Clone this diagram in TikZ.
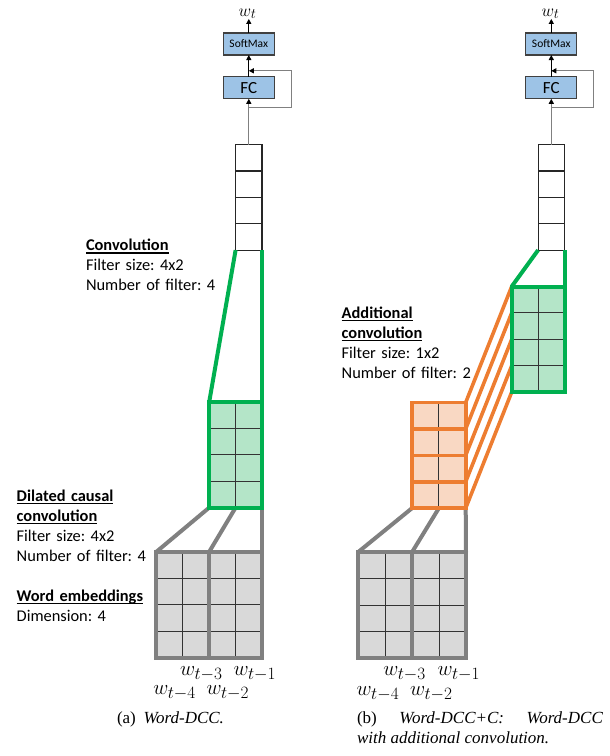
\documentclass[tikz,border=0pt]{standalone}
\usepackage{fontspec}
\setmainfont{Carlito}
\newfontfamily\capfont{Liberation Serif}
\usetikzlibrary{arrows.meta,calc}
\DeclareMathSizes{21}{21}{16.5}{12}
\DeclareMathSizes{19}{19}{14}{10}

\definecolor{boxblue}{HTML}{9DC3E6}
\definecolor{convgreen}{HTML}{00B050}
\definecolor{convgreenfill}{HTML}{B4E5C8}
\definecolor{convorange}{HTML}{ED7D31}
\definecolor{convorangefill}{HTML}{F9D8C3}
\definecolor{embgray}{HTML}{808080}
\definecolor{embgrayfill}{HTML}{D9D9D9}

% bold heading with a solid underline
\newcommand{\ulhead}[1]{\leavevmode\setbox0\hbox{\bfseries #1}\rlap{\rule[-2.8pt]{\wd0}{1.3pt}}\box0}

\begin{document}
\frenchspacing
\begin{tikzpicture}[x=1pt,y=-1pt,
  every node/.style={outer sep=0pt, inner sep=0pt},
  layer/.style={fill=boxblue, draw=black!75, line width=1.1pt,
    minimum width=51pt, minimum height=22pt},
  vec/.style={fill=white, minimum width=26.4pt, minimum height=105.6pt},
  grnfill/.style={fill=convgreenfill, minimum width=52.8pt, minimum height=105.6pt},
  orfill/.style={fill=convorangefill, minimum width=53.6pt, minimum height=105.6pt},
  embfill/.style={fill=embgrayfill, minimum height=106pt},
  gridthin/.style={draw=black!80, line width=0.9pt},
  vecline/.style={draw=black!85, line width=1.2pt},
  grnline/.style={draw=convgreen, line width=4pt},
  orline/.style={draw=convorange, line width=3.6pt},
  embline/.style={draw=embgray, line width=4pt},
  feed/.style={draw=black!50, line width=1.2pt},
  link/.style={draw=black, line width=1.1pt},
  tip/.style={-{Triangle[length=5pt,width=5pt,color=black]}},
  note/.style={anchor=base west, text width=240pt, align=left,
    font=\fontsize{16.4}{20}\selectfont\frenchspacing},
  wlbl/.style={anchor=base west, font=\fontsize{21}{21}\selectfont},
  outlbl/.style={anchor=base, font=\fontsize{19}{19}\selectfont},
  captxt/.style={anchor=base west, font=\capfont\fontsize{17}{20}\selectfont}
]
\useasboundingbox (0,0) rectangle (610,756);

% ---------------- (a) Word-DCC ----------------
\node[layer, font=\fontsize{11.5}{12}\selectfont] (smA) at (248.8,44) {SoftMax};
\node[layer, font=\fontsize{17}{17}\selectfont] (fcA) at (248.8,87.8) {FC};
\node[vec] (colA) at (248.8,197.3) {};
\node[grnfill] (grnA) at (235.6,454.8) {};
\node[embfill, minimum width=105.6pt] (embA) at (209.2,604.8) {};
\node[outlbl] (outA) at (247.5,16) {$w_t$};

% ---------------- (b) Word-DCC+C ----------------
\node[layer, font=\fontsize{11.5}{12}\selectfont] (smB) at (551.3,44) {SoftMax};
\node[layer, font=\fontsize{17}{17}\selectfont] (fcB) at (551.3,87.8) {FC};
\node[vec] (colB) at (551.3,197.3) {};
\node[grnfill] (grnB) at (538.1,339.3) {};
\node[orfill] (orB) at (438.9,455.3) {};
\node[embfill, minimum width=108pt] (embB) at (412,605.2) {};
\node[outlbl] (outB) at (550.5,16) {$w_t$};

% inner grid lines
\foreach \n in {A,B}{
  \foreach \f in {0.25,0.5,0.75}{
    \draw[vecline] ($(col\n.north west)!\f!(col\n.south west)$) -- ($(col\n.north east)!\f!(col\n.south east)$);
    \draw[gridthin] ($(grn\n.north west)!\f!(grn\n.south west)$) -- ($(grn\n.north east)!\f!(grn\n.south east)$);
    \draw[gridthin] ($(emb\n.north west)!\f!(emb\n.south west)$) -- ($(emb\n.north east)!\f!(emb\n.south east)$);
  }
  \draw[gridthin] (grn\n.north) -- (grn\n.south);
  \foreach \f in {0.25,0.75}
    \draw[gridthin] ($(emb\n.north west)!\f!(emb\n.north east)$) -- ($(emb\n.south west)!\f!(emb\n.south east)$);
  \draw[embline] (emb\n.north) -- (emb\n.south);
  \draw[vecline] (col\n.north west) rectangle (col\n.south east);
}
\draw[gridthin] (orB.north) -- (orB.south);

% output, softmax and fully connected layers with the feedback loop
\foreach \n/\dx in {A/42.5,B/42.5}{
  \coordinate (lp\n) at ($(fc\n.south)+(0,9)$);
  \coordinate (lj\n) at ($(fc\n.north)+(0,-6)$);
  \draw[feed, tip] (col\n.north) -- (fc\n.south);
  \draw[feed, tip] (lp\n) -- ++(\dx,0) |- (lj\n);
  \draw[link, tip] (fc\n.north) -- (sm\n.south);
  \draw[link, tip] (sm\n.north) -- (sm\n.north |- out\n.south);
}

% convolution links
\draw[grnline] (colA.south west) -- (grnA.north west);
\draw[grnline] (colA.south east) -- (grnA.north east);
\draw[grnline] (colB.south west) -- (grnB.north west);
\draw[grnline] (colB.south east) -- (grnB.north east);

\draw[embline] (grnA.south west) -- (embA.north west);
\draw[embline] (grnA.south) -- (embA.north);
\draw[embline] (grnA.south east) -- (embA.north east);
\draw[embline] (orB.south west) -- (embB.north west);
\draw[embline] (orB.south) -- (embB.north);
\draw[embline] (orB.south east) -- (embB.north east);

\foreach \f in {0,0.25,0.5,0.75,1}
  \draw[orline] ($(orB.north east)!\f!(orB.south east)$) -- ($(grnB.north west)!\f!(grnB.south west)$);

% thick outlines on top
\draw[grnline] (grnA.north west) rectangle (grnA.south east);
\draw[grnline] (grnB.north west) rectangle (grnB.south east);
\draw[embline] (embA.north west) rectangle (embA.south east);
\draw[embline] (embB.north west) rectangle (embB.south east);
\foreach \f in {0.25,0.5,0.75}
  \draw[orline] ($(orB.north west)!\f!(orB.south west)$) -- ($(orB.north east)!\f!(orB.south east)$);
\draw[orline] (orB.north west) rectangle (orB.south east);

% annotations
\node[note] (noteConv) at (86,250.7) {\ulhead{Convolution}\\Filter size: 4x2\\Number of filter: 4};
\node[note] (noteDcc) at (16.7,501.5) {\ulhead{Dilated causal}\\\ulhead{convolution}\\Filter size: 4x2\\Number of filter: 4\\[20pt]\ulhead{Word embeddings}\\Dimension: 4};
\node[note] (noteAdd) at (341.7,318.3) {\ulhead{Additional}\\\ulhead{convolution}\\Filter size: 1x2\\Number of filter: 2};

% input word labels
\node[wlbl] (w3A) at (180,675) {$w_{t-3}$};
\node[wlbl] (w1A) at (233.5,675) {$w_{t-1}$};
\node[wlbl] (w4A) at (153.3,694) {$w_{t-4}$};
\node[wlbl] (w2A) at (206.5,694) {$w_{t-2}$};
\node[wlbl] (w3B) at (383.3,675) {$w_{t-3}$};
\node[wlbl] (w1B) at (437.5,675) {$w_{t-1}$};
\node[wlbl] (w4B) at (356.7,695) {$w_{t-4}$};
\node[wlbl] (w2B) at (410,695) {$w_{t-2}$};

% captions
\node[captxt] (capA) at (117,723) {(a)\hspace{0.45em}\textit{Word-DCC.}};
\node[captxt] (capB1) at (357,723) {\makebox[246pt][s]{(b) \textit{Word-DCC+C: Word-DCC}}};
\node[captxt] (capB2) at (357,743) {\textit{with additional convolution.}};
\end{tikzpicture}
\end{document}
